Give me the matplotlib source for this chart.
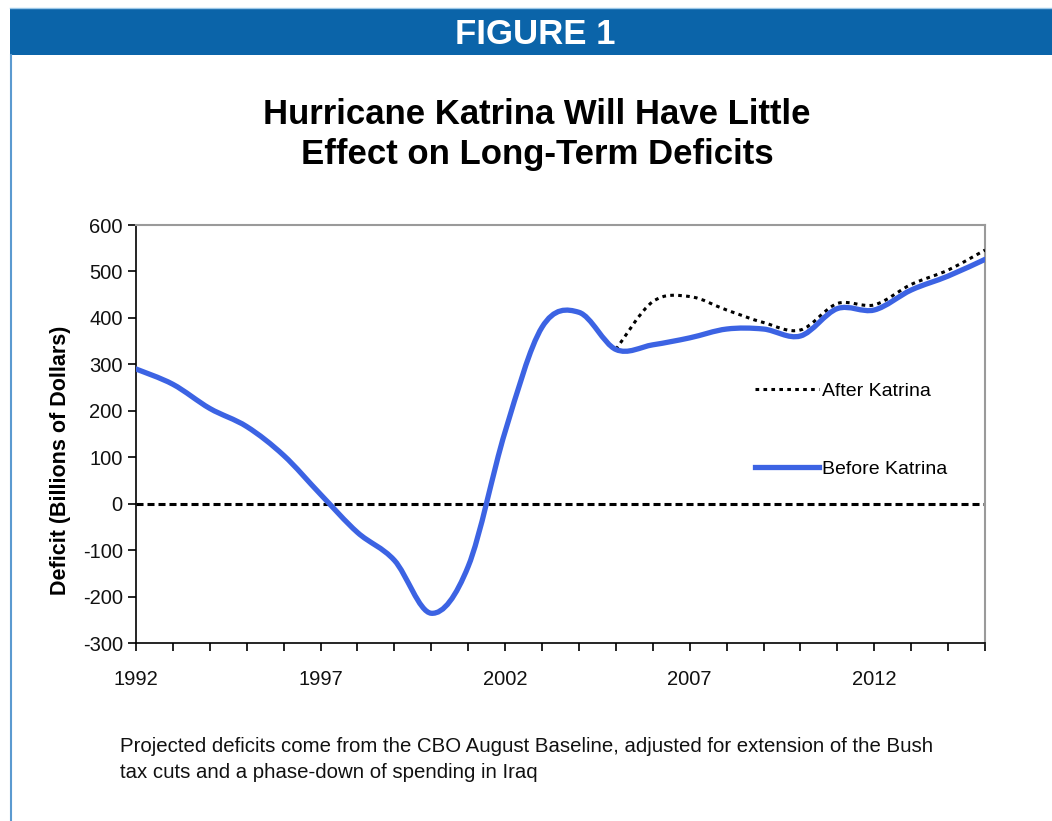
import matplotlib
matplotlib.use("Agg")
import matplotlib.pyplot as plt
from matplotlib.path import Path
from matplotlib.patches import PathPatch, Rectangle
from matplotlib.lines import Line2D
import numpy as np

plt.rcParams['font.family'] = ['Liberation Sans', 'DejaVu Sans']

# ---- data ----
years = list(range(1992, 2016))
before_katrina = [290, 257, 205, 166, 104, 20, -62, -122, -236, -135, 155, 380,
                  412, 332, 342, 357, 376, 376, 361, 420, 417, 460, 490, 526]
after_years = list(range(2005, 2016))
after_katrina = [332, 435, 446, 417, 390, 374, 431, 428, 472, 503, 546]
zero_line = [0] * len(years)
tick_label_years = [1992, 1997, 2002, 2007, 2012]
y_ticks = list(range(-300, 601, 100))

title = "Hurricane Katrina Will Have Little\nEffect on Long-Term Deficits"
note = ("Projected deficits come from the CBO August Baseline, adjusted for extension of the Bush\n"
        "tax cuts and a phase-down of spending in Iraq")


def smooth_path(xs, ys):
    xs = np.asarray(xs, float)
    ys = np.asarray(ys, float)
    n = len(xs)
    verts = [(xs[0], ys[0])]
    codes = [Path.MOVETO]
    for i in range(n - 1):
        i0 = max(i - 1, 0)
        i3 = min(i + 2, n - 1)
        c1 = (xs[i] + (xs[i + 1] - xs[i0]) / 6.0, ys[i] + (ys[i + 1] - ys[i0]) / 6.0)
        c2 = (xs[i + 1] - (xs[i3] - xs[i]) / 6.0, ys[i + 1] - (ys[i3] - ys[i]) / 6.0)
        verts += [c1, c2, (xs[i + 1], ys[i + 1])]
        codes += [Path.CURVE4] * 3
    return Path(verts, codes)


fig = plt.figure(figsize=(10.52, 8.21), dpi=100)

# header band
fig.patches.append(Rectangle((10 / 1052, 1 - 55 / 821), 1 - 10 / 1052, 46 / 821,
                             transform=fig.transFigure, facecolor='#0b64a9',
                             edgecolor='none', zorder=0))
fig.lines.append(Line2D([10 / 1052, 1], [1 - 8.5 / 821, 1 - 8.5 / 821],
                        transform=fig.transFigure, color='#9cc8e8', lw=1))
fig.lines.append(Line2D([10.5 / 1052, 10.5 / 1052], [0, 1 - 55 / 821],
                        transform=fig.transFigure, color='#5b9ad0', lw=1.5))
fig.text(535 / 1052, 1 - 31.5 / 821, "FIGURE 1", color='white', fontsize=25,
         fontweight='bold', ha='center', va='center_baseline')

fig.text(537 / 1052, 1 - 134.5 / 821, title, fontsize=25, fontweight='bold',
         ha='center', va='center', linespacing=1.28)

ax = fig.add_axes([136 / 1052, 1 - 643 / 821, 849 / 1052, 418 / 821])
ax.set_xlim(1992, 2015)
ax.set_ylim(-300, 600)

# zero line
ax.plot(years, zero_line, color='black', lw=2.2, linestyle=(0, (2.3, 1.3)), zorder=2)

# after katrina (smoothed)
ax.add_patch(PathPatch(smooth_path(after_years, after_katrina), fill=False,
                       edgecolor='black', lw=2.2, linestyle=(0, (1.2, 1.4)), zorder=3))
# before katrina (smoothed)
ax.add_patch(PathPatch(smooth_path(years, before_katrina), fill=False,
                       edgecolor='#3c63e3', lw=3.8, capstyle='round',
                       joinstyle='round', zorder=4))

ax.set_xticks(years)
ax.set_xticklabels([str(y) if y in tick_label_years else '' for y in years])
ax.set_yticks(y_ticks)
ax.set_yticklabels([str(v) for v in y_ticks])
ax.tick_params(axis='both', direction='out', length=5.5, width=1.2, color='black',
               labelsize=14.5, labelcolor='#111111')
ax.tick_params(axis='x', pad=14)
ax.tick_params(axis='y', pad=4)
for s in ['left', 'bottom']:
    ax.spines[s].set_color('black')
    ax.spines[s].set_linewidth(1.2)
for s in ['top', 'right']:
    ax.spines[s].set_color('#9a9a9a')
    ax.spines[s].set_linewidth(1.5)

ax.set_ylabel("Deficit (Billions of Dollars)", fontsize=15.5, fontweight='bold')
ax.yaxis.set_label_coords((71 - 136) / 849, (643 - 460) / 418)

handles = [Line2D([], [], color='black', lw=2.2, linestyle=(0, (1.2, 1.4))),
           Line2D([], [], color='#3c63e3', lw=3.8)]
ax.legend(handles, ['After Katrina', 'Before Katrina'], loc='upper left',
          bbox_to_anchor=((755 - 136) / 849, (643 - 382) / 418), frameon=False,
          handlelength=3.3, handletextpad=0.15, labelspacing=3.1, fontsize=14,
          borderaxespad=0, borderpad=0)

fig.text(120 / 1052, 1 - 759.5 / 821, note, fontsize=14.7, ha='left', va='center',
         linespacing=1.42, color='#111111')

fig.savefig('out.png', dpi=100)
